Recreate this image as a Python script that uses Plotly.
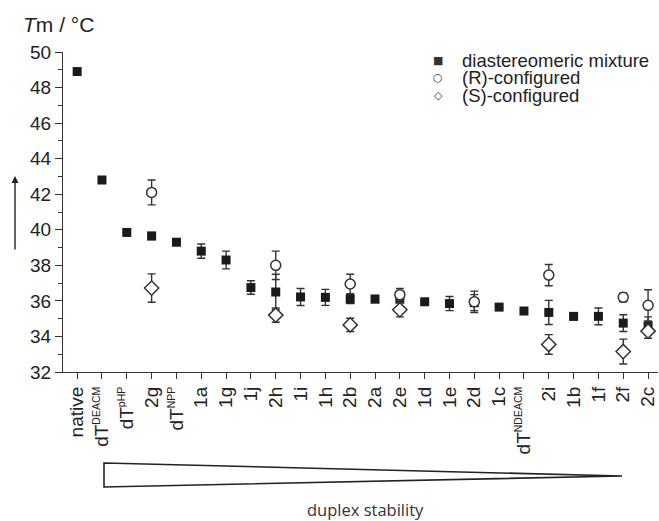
import plotly.graph_objects as go

# ---------------- data ----------------
SUP = "<sup><span style='font-size:10.5px'>{}</span></sup>"
categories = ["native", "dT" + SUP.format("DEACM"), "dT" + SUP.format("pHP"), "2g",
              "dT" + SUP.format("NPP"),
              "1a", "1g", "1j", "2h", "1i", "1h", "2b", "2a", "2e", "1d", "1e", "2d",
              "1c", "dT" + SUP.format("NDEACM"), "2i", "1b", "1f", "2f", "2c"]

mix_vals = [48.9, 42.8, 39.85, 39.65, 39.3, 38.8, 38.3, 36.75, 36.5, 36.22, 36.2, 36.1,
            36.1, 36.1, 35.95, 35.85, 35.9, 35.65, 35.43, 35.35, 35.13, 35.13, 34.75, 34.6]
mix_err = [None, None, None, 0.2, None, 0.4, 0.5, 0.38, 1.0, 0.48, 0.45, 0.25,
           0.2, 0.2, None, 0.4, 0.45, None, None, 0.68, 0.2, 0.47, 0.47, 0.5]

r_cats = [3, 8, 11, 13, 16, 19, 22, 23]          # indices into categories (2g, 2h, 2b, 2e, 2d, 2i, 2f, 2c)
r_vals = [42.1, 38.0, 36.95, 36.35, 35.95, 37.45, 36.2, 35.75]
r_err = [0.7, 0.8, 0.55, 0.35, 0.6, 0.6, 0.25, 0.88]

s_cats = [3, 8, 11, 13, 19, 22, 23]              # 2g, 2h, 2b, 2e, 2i, 2f, 2c
s_vals = [36.72, 35.2, 34.65, 35.5, 33.55, 33.15, 34.3]
s_err = [0.8, 0.4, 0.37, 0.4, 0.55, 0.7, 0.4]

legend_labels = ["diastereomeric mixture", "(R)-configured", "(S)-configured"]
y_ticks = [32, 34, 36, 38, 40, 42, 44, 46, 48, 50]

# ---------------- layout helpers ----------------
W, H = 659, 521
L, R, T, B = 63, 1, 52, 149
PW, PH = W - L - R, H - T - B


def px(x):
    return (x - L) / PW


def py(y):
    return 1 - (y - T) / PH


FONT = "Liberation Sans, Arial, sans-serif"
INK = "#222222"
ERR = dict(type="data", visible=True, thickness=1.4, width=4, color="#333333")

fig = go.Figure()

fig.add_trace(go.Scatter(
    x=list(range(len(categories))), y=mix_vals, mode="markers",
    marker=dict(symbol="square", size=9, color="#1a1a1a", line=dict(width=0)),
    error_y=dict(array=mix_err, **ERR), showlegend=False, name=legend_labels[0]))

fig.add_trace(go.Scatter(
    x=r_cats, y=r_vals, mode="markers",
    marker=dict(symbol="circle", size=10, color="white", line=dict(width=1.5, color="#333333")),
    error_y=dict(array=r_err, **ERR), showlegend=False, name=legend_labels[1]))

fig.add_trace(go.Scatter(
    x=s_cats, y=s_vals, mode="markers",
    marker=dict(symbol="diamond", size=11, color="white", line=dict(width=1.5, color="#333333")),
    error_y=dict(array=s_err, **ERR), showlegend=False, name=legend_labels[2]))

annotations = []
# manual legend
legend_syms = ["■", "○", "◇"]
legend_rows = [60, 77.5, 95]
for sym, lab, yy in zip(legend_syms, legend_labels, legend_rows):
    annotations.append(dict(x=px(438), y=py(yy), xref="paper", yref="paper", text=sym,
                            showarrow=False, xanchor="center", yanchor="middle",
                            font=dict(family="DejaVu Sans", size=11, color="#333333")))
    annotations.append(dict(x=px(460), y=py(yy), xref="paper", yref="paper", text=lab,
                            showarrow=False, xanchor="left", yanchor="middle",
                            font=dict(family=FONT, size=18.5, color=INK)))

# axis title
annotations.append(dict(x=px(21), y=py(25), xref="paper", yref="paper",
                        text="<i>T</i>m / °C", showarrow=False, xanchor="left", yanchor="middle",
                        font=dict(family=FONT, size=21, color=INK)))
# upward arrow
annotations.append(dict(x=px(15), y=py(176), xref="paper", yref="paper", text="",
                        showarrow=True, ax=0, ay=75, axref="pixel", ayref="pixel",
                        arrowhead=2, arrowsize=1, arrowwidth=1.4, arrowcolor="#222222"))
# duplex stability
annotations.append(dict(x=px(365), y=py(509), xref="paper", yref="paper",
                        text="duplex stability", showarrow=False, xanchor="center", yanchor="middle",
                        font=dict(family="Open Sans", size=16.5, color="#333333")))

shapes = [dict(type="path", xref="paper", yref="paper",
               path=f"M {px(104)},{py(463)} L {px(622)},{py(476)} L {px(104)},{py(487)} Z",
               line=dict(color="#222222", width=1.6), fillcolor="rgba(0,0,0,0)")]

fig.update_layout(
    width=W, height=H, margin=dict(l=L, r=R, t=T, b=B, autoexpand=False),
    paper_bgcolor="white", plot_bgcolor="white",
    font=dict(family=FONT, size=19, color=INK),
    annotations=annotations, shapes=shapes,
    xaxis=dict(range=[-0.57, 23.4], tickmode="array",
               tickvals=list(range(len(categories))), ticktext=categories,
               tickangle=-90, ticks="outside", ticklen=6, tickwidth=1.3, tickcolor="#333333",
               showline=True, linecolor="#333333", linewidth=1.3, showgrid=False, zeroline=False,
               automargin=False, tickfont=dict(family=FONT, size=19, color=INK)),
    yaxis=dict(range=[32, 50], tickmode="array", tickvals=y_ticks,
               ticks="outside", ticklen=7, tickwidth=1.3, tickcolor="#333333",
               minor=dict(dtick=1, ticks="outside", ticklen=4, tickwidth=1.2, tickcolor="#333333"),
               showline=True, linecolor="#333333", linewidth=1.3, showgrid=False, zeroline=False,
               automargin=False, tickfont=dict(family=FONT, size=19, color=INK)),
)

fig.write_html("out.html", config={"displayModeBar": False},
               post_script="document.body.style.margin='0';")
